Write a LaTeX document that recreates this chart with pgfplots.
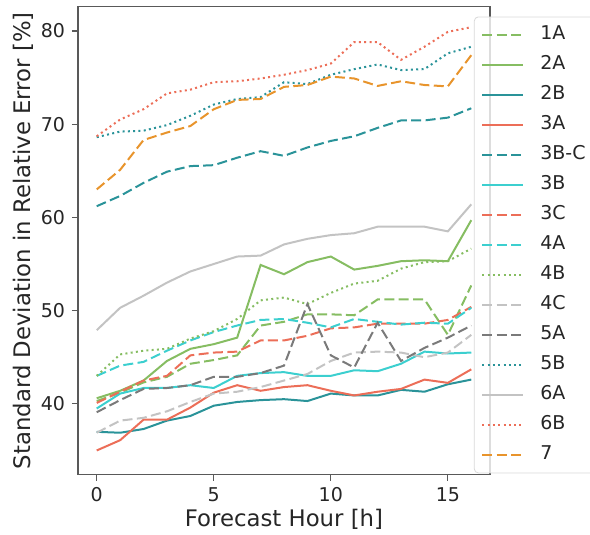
\documentclass[border=0pt]{standalone}
\usepackage{fontspec}
\setmainfont{DejaVu Sans}
\usepackage{pgfplots}
\pgfplotsset{compat=1.18}
\definecolor{cgreen}{HTML}{86BD62}
\definecolor{cteal}{HTML}{2A9399}
\definecolor{cred}{HTML}{EC6E58}
\definecolor{ccyan}{HTML}{3CCFCF}
\definecolor{clgray}{HTML}{C3C3C3}
\definecolor{cdgray}{HTML}{7A7A7A}
\definecolor{corange}{HTML}{E8942C}
\tikzset{
  mdash/.style={dash pattern=on 5pt off 2.2pt},
  mdot/.style={dash pattern=on 1pt off 1.65pt},
}
\begin{document}
\begin{tikzpicture}
\begin{axis}[
  scale only axis, width=206pt, height=234pt,
  xmin=-0.8, xmax=16.8, ymin=32.4, ymax=82.6,
  xtick={0,5,10,15}, ytick={40,50,60,70,80},
  tick pos=left, tick align=outside, major tick length=3pt,
  axis line style={black!65, line width=0.6pt},
  tick style={black!65, line width=0.6pt},
  /pgf/number format/assume math mode=true,
  ticklabel style={font=\fontsize{9.5}{11}\selectfont, text=black!85},
  xlabel={Forecast Hour [h]},
  ylabel={Standard Deviation in Relative Error [\%]},
  label style={font=\fontsize{11.4}{13}\selectfont, text=black!85},
  xlabel style={at={(axis description cs:0.5,-0.096)}, anchor=center},
  ylabel style={at={(axis description cs:-0.1335,0.5)}, anchor=center},
  legend style={at={(axis description cs:0.961,0.979)}, anchor=north west,
    fill=white, fill opacity=0.8, text opacity=1, draw=black!15,
    rounded corners=2pt, font=\fontsize{9.5}{11}\selectfont,
    inner xsep=3.5pt, inner ysep=1.5pt, row sep=0pt,
    nodes={text height=7pt, text depth=2pt, inner sep=3pt, text=black!85},
    /tikz/every odd column/.append style={column sep=5pt}},
  legend cell align=left,
  legend image code/.code={\draw[#1] (0pt,0pt) -- (20.5pt,0pt);},
  every axis plot/.append style={line width=1pt},
]
\addplot[cgreen, mdash] coordinates {(0,40.3)(1,41.2)(2,42.3)(3,42.9)(4,44.3)(5,44.7)(6,45.2)(7,48.4)(8,48.8)(9,49.6)(10,49.6)(11,49.5)(12,51.2)(13,51.2)(14,51.2)(15,47.4)(16,52.7)};
\addlegendentry{1A}
\addplot[cgreen] coordinates {(0,40.6)(1,41.4)(2,42.5)(3,44.6)(4,45.9)(5,46.4)(6,47.1)(7,54.9)(8,53.9)(9,55.2)(10,55.8)(11,54.4)(12,54.8)(13,55.3)(14,55.4)(15,55.3)(16,59.7)};
\addlegendentry{2A}
\addplot[cteal] coordinates {(0,37.0)(1,36.9)(2,37.3)(3,38.2)(4,38.7)(5,39.8)(6,40.2)(7,40.4)(8,40.5)(9,40.3)(10,41.1)(11,40.9)(12,40.9)(13,41.5)(14,41.3)(15,42.1)(16,42.6)};
\addlegendentry{2B}
\addplot[cred] coordinates {(0,35.0)(1,36.1)(2,38.3)(3,38.3)(4,39.6)(5,41.2)(6,42.0)(7,41.4)(8,41.8)(9,42.0)(10,41.4)(11,40.9)(12,41.3)(13,41.6)(14,42.6)(15,42.25)(16,43.7)};
\addlegendentry{3A}
\addplot[cteal, mdash] coordinates {(0,61.2)(1,62.3)(2,63.7)(3,64.9)(4,65.5)(5,65.6)(6,66.4)(7,67.1)(8,66.6)(9,67.5)(10,68.2)(11,68.7)(12,69.6)(13,70.4)(14,70.4)(15,70.7)(16,71.7)};
\addlegendentry{3B-C}
\addplot[ccyan] coordinates {(0,39.5)(1,41.1)(2,41.7)(3,41.7)(4,42.0)(5,41.7)(6,43.0)(7,43.3)(8,43.4)(9,43.0)(10,43.0)(11,43.6)(12,43.5)(13,44.3)(14,45.6)(15,45.4)(16,45.5)};
\addlegendentry{3B}
\addplot[cred, mdash] coordinates {(0,40.1)(1,41.3)(2,42.5)(3,43.0)(4,45.2)(5,45.5)(6,45.6)(7,46.8)(8,46.8)(9,47.3)(10,48.1)(11,48.2)(12,48.6)(13,48.6)(14,48.6)(15,49.0)(16,50.4)};
\addlegendentry{3C}
\addplot[ccyan, mdash] coordinates {(0,43.0)(1,44.1)(2,44.5)(3,45.7)(4,46.8)(5,47.7)(6,48.4)(7,49.0)(8,49.1)(9,48.7)(10,48.2)(11,49.1)(12,48.8)(13,48.5)(14,48.7)(15,48.6)(16,50.3)};
\addlegendentry{4A}
\addplot[cgreen, mdot] coordinates {(0,43.0)(1,45.3)(2,45.7)(3,45.9)(4,47.0)(5,47.8)(6,49.1)(7,51.1)(8,51.4)(9,50.7)(10,51.9)(11,52.9)(12,53.2)(13,54.5)(14,55.2)(15,55.3)(16,56.65)};
\addlegendentry{4B}
\addplot[clgray, mdash] coordinates {(0,36.9)(1,38.2)(2,38.5)(3,39.2)(4,40.2)(5,41.1)(6,41.3)(7,41.8)(8,42.5)(9,43.2)(10,44.6)(11,45.5)(12,45.6)(13,45.5)(14,45.0)(15,45.5)(16,47.4)};
\addlegendentry{4C}
\addplot[cdgray, mdash] coordinates {(0,39.1)(1,40.4)(2,41.6)(3,41.7)(4,42.0)(5,42.9)(6,42.9)(7,43.3)(8,44.1)(9,50.7)(10,45.2)(11,43.9)(12,48.7)(13,44.6)(14,46.0)(15,47.1)(16,48.4)};
\addlegendentry{5A}
\addplot[cteal, mdot] coordinates {(0,68.6)(1,69.2)(2,69.3)(3,69.9)(4,70.9)(5,72.1)(6,72.7)(7,72.9)(8,74.5)(9,74.3)(10,75.3)(11,75.9)(12,76.4)(13,75.8)(14,75.9)(15,77.6)(16,78.3)};
\addlegendentry{5B}
\addplot[clgray] coordinates {(0,47.9)(1,50.3)(2,51.6)(3,53.0)(4,54.2)(5,55.0)(6,55.8)(7,55.9)(8,57.1)(9,57.7)(10,58.1)(11,58.3)(12,59.0)(13,59.0)(14,59.0)(15,58.5)(16,61.4)};
\addlegendentry{6A}
\addplot[cred, mdot] coordinates {(0,68.7)(1,70.5)(2,71.6)(3,73.3)(4,73.7)(5,74.5)(6,74.6)(7,74.9)(8,75.3)(9,75.8)(10,76.5)(11,78.8)(12,78.8)(13,76.9)(14,78.3)(15,79.9)(16,80.4)};
\addlegendentry{6B}
\addplot[corange, mdash] coordinates {(0,63.0)(1,65.1)(2,68.3)(3,69.1)(4,69.8)(5,71.6)(6,72.6)(7,72.7)(8,74.0)(9,74.2)(10,75.1)(11,74.9)(12,74.1)(13,74.6)(14,74.2)(15,74.05)(16,77.4)};
\addlegendentry{7}
\end{axis}
\pgfresetboundingbox
\path (-39pt,-30pt) rectangle (256pt,237.35pt);
\end{tikzpicture}
\end{document}
